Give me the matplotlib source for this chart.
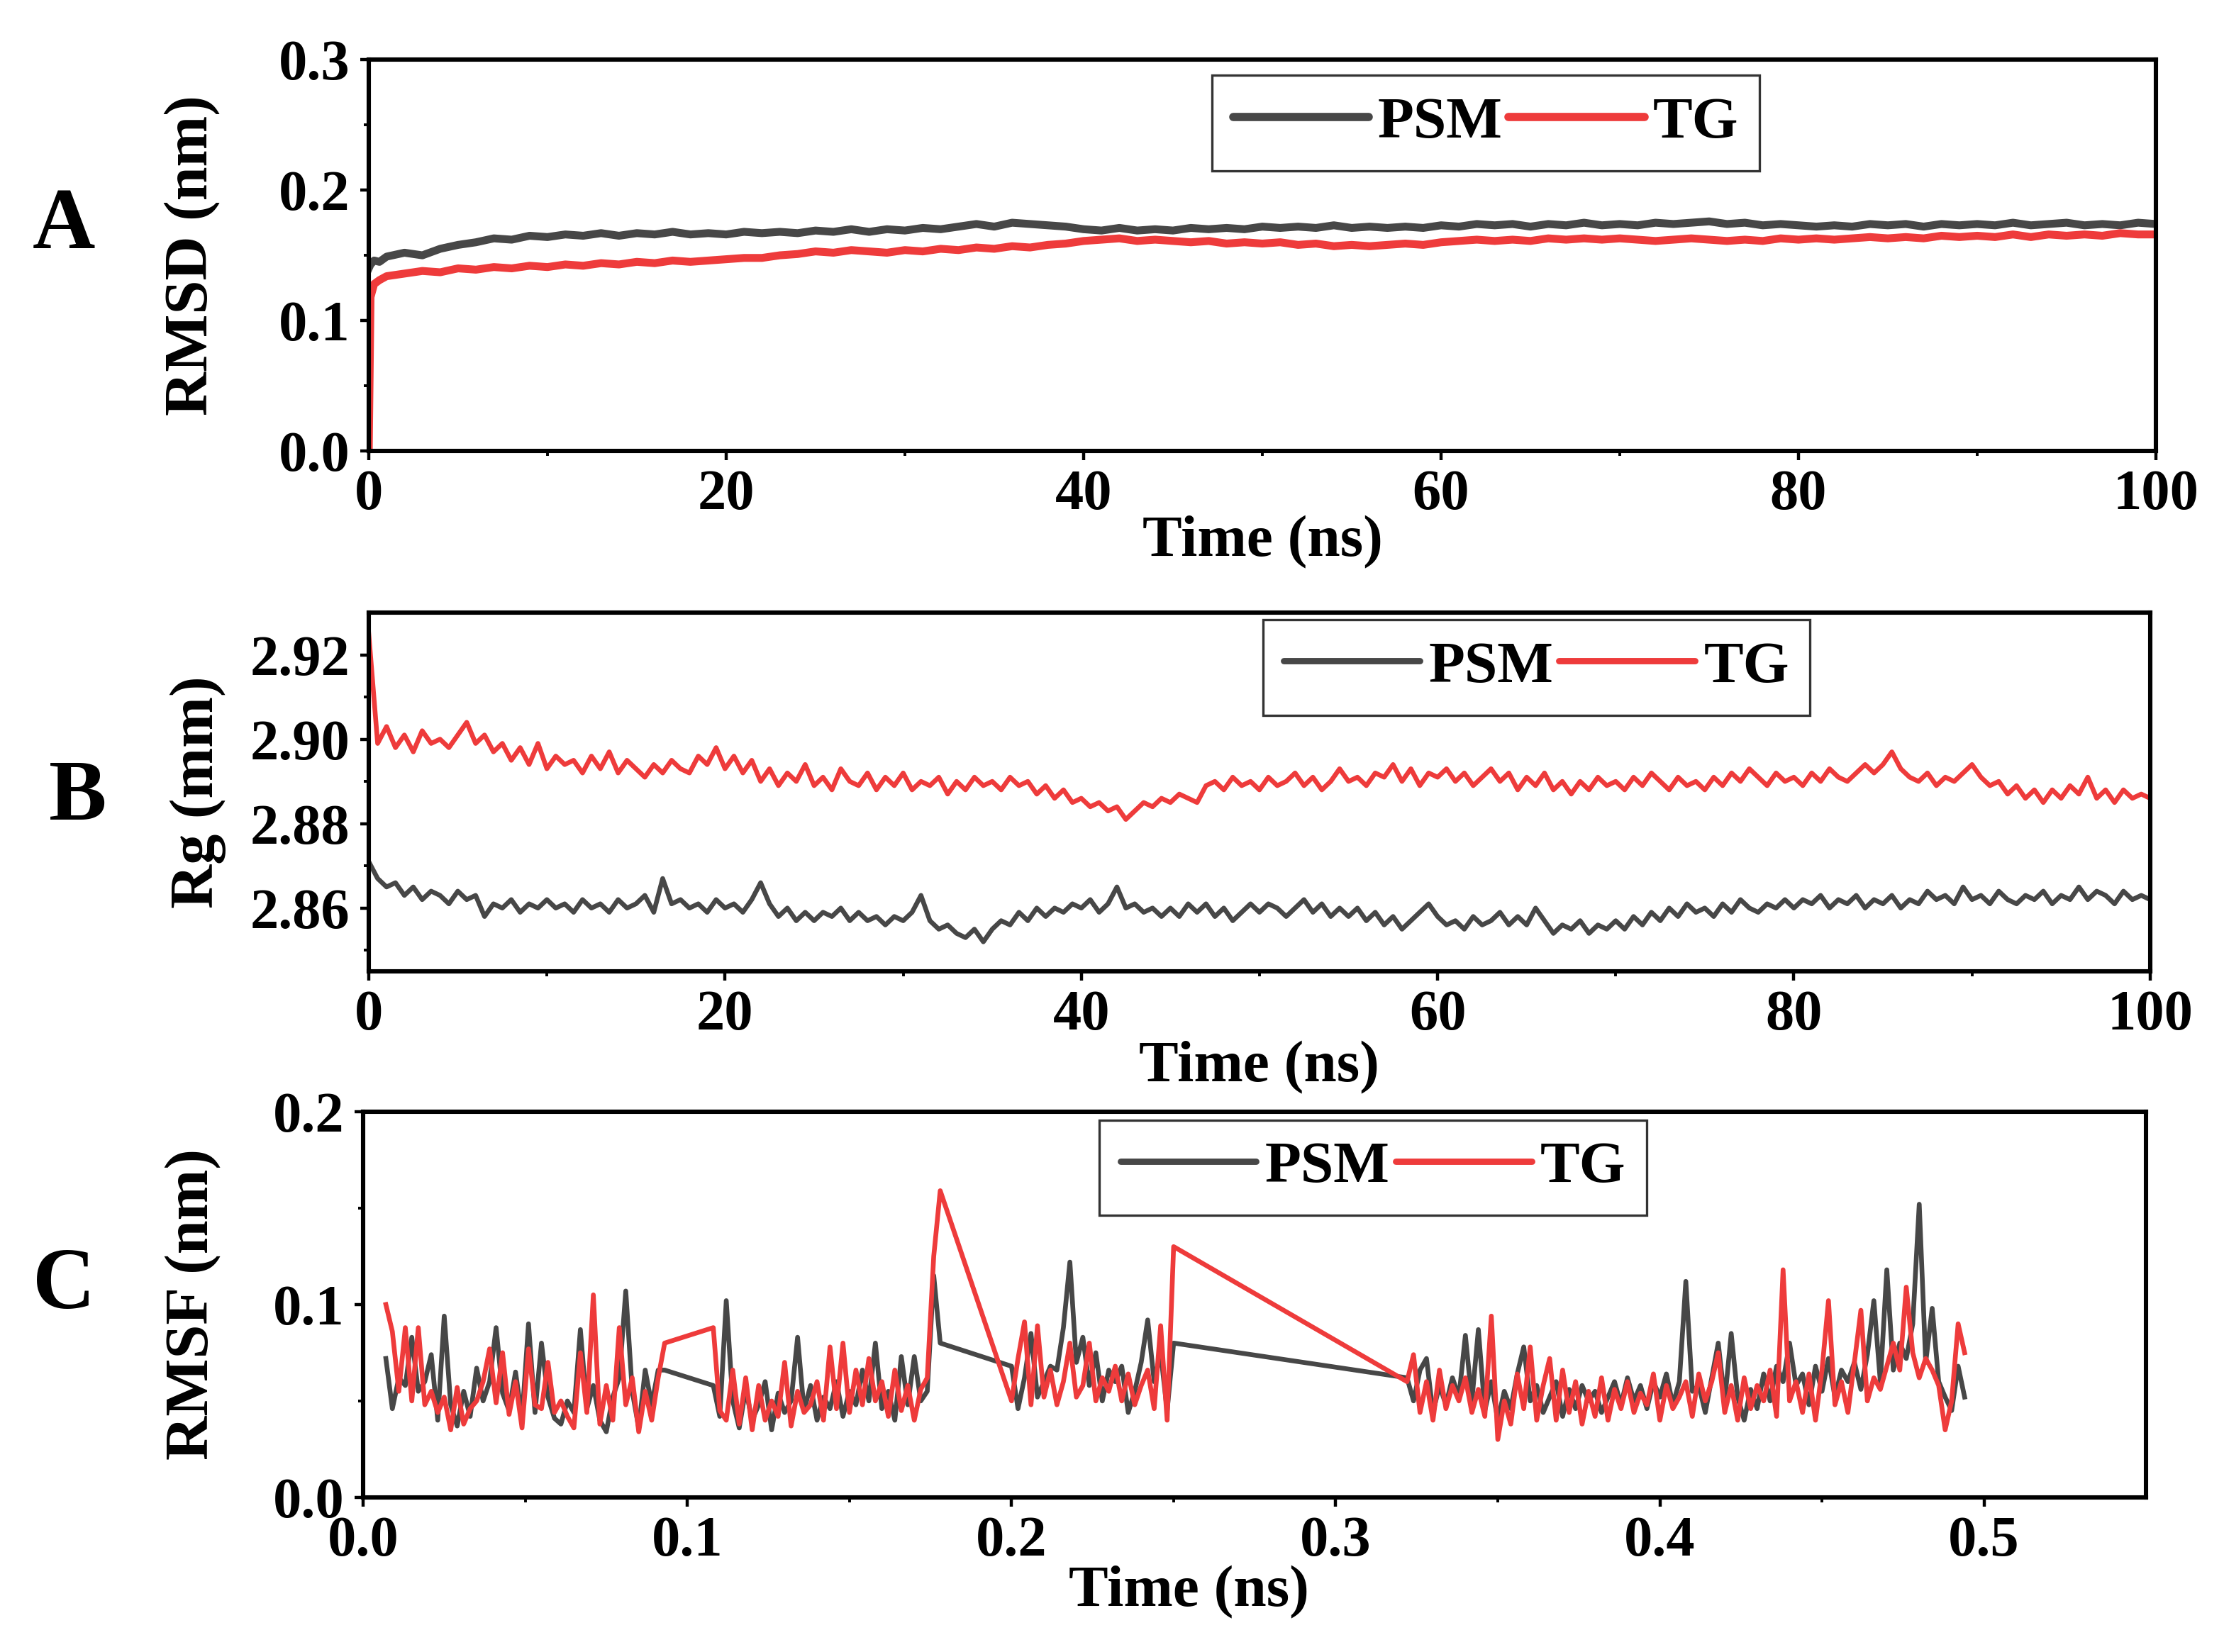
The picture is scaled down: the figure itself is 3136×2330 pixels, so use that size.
import numpy as np
import matplotlib.pyplot as plt

# MD analysis of PSM and TG: RMSD, Rg and RMSF

# ---- Panel A: RMSD (nm) vs time (ns)
rmsd_time = [0, 0.1, 0.3, 0.6] + list(range(1, 101))
rmsd_psm = [0.140, 0.143, 0.146, 0.145,
            0.149, 0.152, 0.150, 0.155, 0.158, 0.160, 0.163, 0.162, 0.165, 0.164,
            0.166, 0.165, 0.167, 0.165, 0.167, 0.166, 0.168, 0.166, 0.167, 0.166,
            0.168, 0.167, 0.168, 0.167, 0.169, 0.168, 0.170, 0.168, 0.170, 0.169,
            0.171, 0.170, 0.172, 0.174, 0.172, 0.175, 0.174, 0.173, 0.172, 0.170,
            0.169, 0.171, 0.169, 0.170, 0.169, 0.171, 0.170, 0.171, 0.170, 0.172,
            0.171, 0.172, 0.171, 0.173, 0.171, 0.172, 0.171, 0.172, 0.171, 0.173,
            0.172, 0.174, 0.173, 0.174, 0.172, 0.174, 0.173, 0.175, 0.173, 0.174,
            0.173, 0.175, 0.174, 0.175, 0.176, 0.174, 0.175, 0.173, 0.174, 0.173,
            0.172, 0.173, 0.172, 0.174, 0.173, 0.174, 0.172, 0.174, 0.173, 0.174,
            0.173, 0.175, 0.173, 0.174, 0.175, 0.173, 0.174, 0.173, 0.175, 0.174]
rmsd_tg = [0.000, 0.118, 0.128, 0.131,
           0.134, 0.136, 0.138, 0.137, 0.140, 0.139, 0.141, 0.140, 0.142, 0.141,
           0.143, 0.142, 0.144, 0.143, 0.145, 0.144, 0.146, 0.145, 0.146, 0.147,
           0.148, 0.148, 0.150, 0.151, 0.153, 0.152, 0.154, 0.153, 0.152, 0.154,
           0.153, 0.155, 0.154, 0.156, 0.155, 0.157, 0.156, 0.158, 0.159, 0.161,
           0.162, 0.163, 0.161, 0.162, 0.161, 0.160, 0.161, 0.159, 0.160, 0.159,
           0.160, 0.158, 0.159, 0.157, 0.158, 0.157, 0.158, 0.159, 0.158, 0.160,
           0.161, 0.162, 0.161, 0.162, 0.161, 0.163, 0.162, 0.163, 0.162, 0.163,
           0.162, 0.161, 0.162, 0.163, 0.162, 0.161, 0.162, 0.161, 0.163, 0.162,
           0.163, 0.162, 0.163, 0.164, 0.163, 0.164, 0.163, 0.165, 0.164, 0.165,
           0.164, 0.166, 0.164, 0.166, 0.165, 0.166, 0.165, 0.167, 0.166, 0.166]

# ---- Panel B: Rg vs time, every 0.5 ns
rg_time = np.arange(0, 100.25, 0.5)
rg_psm = [2.871, 2.867, 2.865, 2.866, 2.863, 2.865, 2.862, 2.864, 2.863, 2.861,
          2.864, 2.862, 2.863, 2.858, 2.861, 2.860, 2.862, 2.859, 2.861, 2.860,
          2.862, 2.860, 2.861, 2.859, 2.862, 2.860, 2.861, 2.859, 2.862, 2.860,
          2.861, 2.863, 2.859, 2.867, 2.861, 2.862, 2.860, 2.861, 2.859, 2.862,
          2.860, 2.861, 2.859, 2.862, 2.866, 2.861, 2.858, 2.860, 2.857, 2.859,
          2.857, 2.859, 2.858, 2.860, 2.857, 2.859, 2.857, 2.858, 2.856, 2.858,
          2.857, 2.859, 2.863, 2.857, 2.855, 2.856, 2.854, 2.853, 2.855, 2.852,
          2.855, 2.857, 2.856, 2.859, 2.857, 2.860, 2.858, 2.860, 2.859, 2.861,
          2.860, 2.862, 2.859, 2.861, 2.865, 2.860, 2.861, 2.859, 2.860, 2.858,
          2.860, 2.858, 2.861, 2.859, 2.861, 2.858, 2.860, 2.857, 2.859, 2.861,
          2.859, 2.861, 2.860, 2.858, 2.860, 2.862, 2.859, 2.861, 2.858, 2.860,
          2.858, 2.860, 2.857, 2.859, 2.856, 2.858, 2.855, 2.857, 2.859, 2.861,
          2.858, 2.856, 2.857, 2.855, 2.858, 2.856, 2.857, 2.859, 2.856, 2.858,
          2.856, 2.860, 2.857, 2.854, 2.856, 2.855, 2.857, 2.854, 2.856, 2.855,
          2.857, 2.855, 2.858, 2.856, 2.859, 2.857, 2.860, 2.858, 2.861, 2.859,
          2.860, 2.858, 2.861, 2.859, 2.862, 2.860, 2.859, 2.861, 2.860, 2.862,
          2.860, 2.862, 2.861, 2.863, 2.860, 2.862, 2.861, 2.863, 2.860, 2.862,
          2.861, 2.863, 2.860, 2.862, 2.861, 2.864, 2.862, 2.863, 2.861, 2.865,
          2.862, 2.863, 2.861, 2.864, 2.862, 2.861, 2.863, 2.862, 2.864, 2.861,
          2.863, 2.862, 2.865, 2.862, 2.864, 2.863, 2.861, 2.864, 2.862, 2.863,
          2.862]
rg_tg = [2.925, 2.899, 2.903, 2.898, 2.901, 2.897, 2.902, 2.899, 2.900, 2.898,
         2.901, 2.904, 2.899, 2.901, 2.897, 2.899, 2.895, 2.898, 2.894, 2.899,
         2.893, 2.896, 2.894, 2.895, 2.892, 2.896, 2.893, 2.897, 2.892, 2.895,
         2.893, 2.891, 2.894, 2.892, 2.895, 2.893, 2.892, 2.896, 2.894, 2.898,
         2.893, 2.896, 2.892, 2.895, 2.890, 2.893, 2.889, 2.892, 2.890, 2.894,
         2.889, 2.891, 2.888, 2.893, 2.890, 2.889, 2.892, 2.888, 2.891, 2.889,
         2.892, 2.888, 2.890, 2.889, 2.891, 2.887, 2.890, 2.888, 2.891, 2.889,
         2.890, 2.888, 2.891, 2.889, 2.890, 2.887, 2.889, 2.886, 2.888, 2.885,
         2.886, 2.884, 2.885, 2.883, 2.884, 2.881, 2.883, 2.885, 2.884, 2.886,
         2.885, 2.887, 2.886, 2.885, 2.889, 2.890, 2.888, 2.891, 2.889, 2.890,
         2.888, 2.891, 2.889, 2.890, 2.892, 2.889, 2.891, 2.888, 2.890, 2.893,
         2.890, 2.891, 2.889, 2.892, 2.891, 2.894, 2.890, 2.893, 2.889, 2.892,
         2.891, 2.893, 2.890, 2.892, 2.889, 2.891, 2.893, 2.890, 2.892, 2.888,
         2.891, 2.889, 2.892, 2.888, 2.890, 2.887, 2.890, 2.888, 2.891, 2.889,
         2.890, 2.888, 2.891, 2.889, 2.892, 2.890, 2.888, 2.891, 2.889, 2.890,
         2.888, 2.891, 2.889, 2.892, 2.890, 2.893, 2.891, 2.889, 2.892, 2.890,
         2.891, 2.889, 2.892, 2.890, 2.893, 2.891, 2.890, 2.892, 2.894, 2.892,
         2.894, 2.897, 2.893, 2.891, 2.890, 2.892, 2.889, 2.891, 2.890, 2.892,
         2.894, 2.891, 2.889, 2.890, 2.887, 2.889, 2.886, 2.888, 2.885, 2.888,
         2.886, 2.889, 2.887, 2.891, 2.886, 2.888, 2.885, 2.888, 2.886, 2.887,
         2.886]

# ---- Panel C: RMSF, sampled every 0.002 on four covered stretches
rmsf_segments = [(0.007, 0.093), (0.108, 0.178), (0.200, 0.250), (0.322, 0.494)]
rmsf_step = 0.002
rmsf_psm = [
    # 0.007 - 0.093
    0.072, 0.046, 0.062, 0.058, 0.083, 0.055, 0.060, 0.074, 0.040, 0.094,
    0.048, 0.037, 0.055, 0.042, 0.067, 0.050, 0.060, 0.088, 0.054, 0.045,
    0.065, 0.041, 0.090, 0.044, 0.080, 0.052, 0.041, 0.038, 0.050, 0.044,
    0.087, 0.046, 0.058, 0.040, 0.034, 0.052, 0.062, 0.107, 0.055, 0.036,
    0.066, 0.048, 0.066, 0.066,
    # 0.108 - 0.178
    0.058, 0.042, 0.102, 0.050, 0.036, 0.056, 0.040, 0.048, 0.060, 0.035,
    0.054, 0.044, 0.050, 0.083, 0.045, 0.058, 0.040, 0.052, 0.046, 0.060,
    0.042, 0.055, 0.048, 0.066, 0.050, 0.080, 0.046, 0.055, 0.040, 0.073,
    0.048, 0.073, 0.050, 0.055, 0.115, 0.080,
    # 0.200 - 0.250
    0.068, 0.046, 0.062, 0.085, 0.052, 0.060, 0.068, 0.066, 0.088, 0.122,
    0.070, 0.083, 0.058, 0.075, 0.050, 0.066, 0.060, 0.068, 0.044, 0.055,
    0.070, 0.092, 0.060, 0.075, 0.045, 0.080,
    # 0.322 - 0.494
    0.062, 0.050, 0.066, 0.072, 0.044, 0.058, 0.048, 0.062, 0.052, 0.084,
    0.050, 0.087, 0.045, 0.060, 0.040, 0.055, 0.046, 0.064, 0.078, 0.050,
    0.058, 0.044, 0.052, 0.060, 0.042, 0.056, 0.046, 0.058, 0.050, 0.055,
    0.044, 0.052, 0.060, 0.048, 0.062, 0.050, 0.058, 0.046, 0.060, 0.052,
    0.064, 0.048, 0.060, 0.112, 0.055, 0.058, 0.044, 0.062, 0.080, 0.050,
    0.085, 0.052, 0.040, 0.056, 0.046, 0.064, 0.050, 0.068, 0.060, 0.080,
    0.058, 0.064, 0.048, 0.068, 0.055, 0.072, 0.052, 0.066, 0.060, 0.070,
    0.056, 0.074, 0.102, 0.060, 0.118, 0.066, 0.080, 0.072, 0.090, 0.152,
    0.070, 0.098, 0.060, 0.052, 0.045, 0.068, 0.052]
rmsf_tg = [
    # 0.007 - 0.093
    0.100, 0.086, 0.055, 0.088, 0.050, 0.088, 0.048, 0.055, 0.044, 0.052,
    0.035, 0.057, 0.038, 0.046, 0.050, 0.060, 0.077, 0.049, 0.075, 0.043,
    0.060, 0.036, 0.077, 0.048, 0.046, 0.070, 0.044, 0.050, 0.042, 0.036,
    0.075, 0.044, 0.105, 0.038, 0.058, 0.040, 0.088, 0.048, 0.062, 0.034,
    0.055, 0.040, 0.062, 0.080,
    # 0.108 - 0.178
    0.088, 0.045, 0.040, 0.066, 0.038, 0.062, 0.035, 0.058, 0.040, 0.050,
    0.042, 0.070, 0.037, 0.055, 0.044, 0.048, 0.060, 0.040, 0.078, 0.046,
    0.080, 0.044, 0.066, 0.048, 0.072, 0.050, 0.060, 0.042, 0.066, 0.045,
    0.058, 0.040, 0.056, 0.062, 0.125, 0.159,
    # 0.200 - 0.250
    0.050, 0.072, 0.091, 0.048, 0.089, 0.052, 0.066, 0.048, 0.060, 0.080,
    0.052, 0.058, 0.080, 0.050, 0.062, 0.055, 0.068, 0.050, 0.064, 0.048,
    0.058, 0.066, 0.046, 0.089, 0.040, 0.130,
    # 0.322 - 0.494
    0.060, 0.074, 0.044, 0.060, 0.040, 0.066, 0.046, 0.058, 0.050, 0.062,
    0.044, 0.056, 0.042, 0.094, 0.030, 0.050, 0.038, 0.064, 0.046, 0.078,
    0.040, 0.058, 0.072, 0.040, 0.066, 0.044, 0.060, 0.038, 0.055, 0.042,
    0.062, 0.040, 0.056, 0.046, 0.060, 0.044, 0.054, 0.048, 0.064, 0.040,
    0.058, 0.046, 0.052, 0.060, 0.042, 0.064, 0.050, 0.060, 0.075, 0.044,
    0.058, 0.040, 0.062, 0.046, 0.058, 0.050, 0.066, 0.042, 0.118, 0.050,
    0.060, 0.044, 0.064, 0.040, 0.066, 0.102, 0.048, 0.060, 0.044, 0.070,
    0.097, 0.050, 0.062, 0.056, 0.068, 0.080, 0.066, 0.109, 0.075, 0.062,
    0.072, 0.066, 0.058, 0.035, 0.050, 0.090, 0.075]

rmsf_x = np.concatenate([np.round(np.arange(a, b + rmsf_step / 2, rmsf_step), 3)
                         for a, b in rmsf_segments])

series_names = ['PSM', 'TG']
c_psm = '#474747'
c_tg = '#ee3b3b'

plt.rcParams['font.family'] = ['Liberation Serif', 'DejaVu Serif']
plt.rcParams['font.weight'] = 'bold'

fig = plt.figure(figsize=(15.68, 11.65), dpi=200)
axA = fig.add_axes([0.1658, 0.727, 0.8036, 0.2369])
axB = fig.add_axes([0.1658, 0.412, 0.8010, 0.2172])
axC = fig.add_axes([0.1633, 0.0936, 0.8017, 0.2335])

tick_fs = 29
label_fs = 30


def style_axis(ax, xlabel, ylabel, ylab_x, xlab_y, xlab_x=0.5):
    for s in ax.spines.values():
        s.set_linewidth(2.2)
    ax.tick_params(which='major', direction='out', length=4.5, width=1.6,
                   labelsize=tick_fs, pad=5, top=False, right=False)
    ax.tick_params(which='minor', direction='out', length=2.5, width=1.4,
                   top=False, right=False)
    for lab in ax.get_xticklabels() + ax.get_yticklabels():
        lab.set_fontweight('bold')
    ax.set_xlabel(xlabel, fontsize=label_fs, fontweight='bold', va='top')
    ax.set_ylabel(ylabel, fontsize=label_fs + 1, fontweight='bold')
    ax.xaxis.set_label_coords(xlab_x, xlab_y)
    ax.yaxis.set_label_coords(ylab_x, 0.5)


def add_legend(ax, anchor, lw):
    leg = ax.legend(loc='upper left', bbox_to_anchor=anchor, ncol=2,
                    fontsize=label_fs, frameon=True, fancybox=False,
                    edgecolor='black', handlelength=2.3, handletextpad=0.15,
                    columnspacing=0.1, borderpad=0.35, borderaxespad=0)
    leg.get_frame().set_linewidth(1.2)
    for ln in leg.get_lines():
        ln.set_linewidth(lw)
        ln.set_solid_capstyle('round')
    for t in leg.get_texts():
        t.set_fontweight('bold')
    return leg


# Panel A
axA.plot(rmsd_time, rmsd_psm, color=c_psm, lw=4.0, label=series_names[0])
axA.plot(rmsd_time, rmsd_tg, color=c_tg, lw=4.0, label=series_names[1])
axA.set_xlim(0, 100)
axA.set_ylim(0, 0.3)
axA.set_xticks([0, 20, 40, 60, 80, 100])
axA.set_xticks([10, 30, 50, 70, 90], minor=True)
axA.set_yticks([0.0, 0.1, 0.2, 0.3])
axA.set_yticks([0.05, 0.15, 0.25], minor=True)
axA.set_yticklabels(['0.0', '0.1', '0.2', '0.3'])
style_axis(axA, 'Time (ns)', 'RMSD (nm)', -0.083, -0.165)
add_legend(axA, (0.472, 0.96), 4.2)

# Panel B
axB.plot(rg_time, rg_psm, color=c_psm, lw=2.4, label=series_names[0])
axB.plot(rg_time, rg_tg, color=c_tg, lw=2.4, label=series_names[1])
axB.set_xlim(0, 100)
axB.set_ylim(2.845, 2.93)
axB.set_xticks([0, 20, 40, 60, 80, 100])
axB.set_xticks([10, 30, 50, 70, 90], minor=True)
axB.set_yticks([2.86, 2.88, 2.90, 2.92])
axB.set_yticks([2.85, 2.87, 2.89, 2.91], minor=True)
axB.set_yticklabels(['2.86', '2.88', '2.90', '2.92'])
style_axis(axB, 'Time (ns)', 'Rg (mm)', -0.080, -0.195)
add_legend(axB, (0.502, 0.98), 3.2)

# Panel C
axC.plot(rmsf_x, rmsf_psm, color=c_psm, lw=2.4, label=series_names[0])
axC.plot(rmsf_x, rmsf_tg, color=c_tg, lw=2.4, label=series_names[1])
axC.set_xlim(0, 0.55)
axC.set_ylim(0, 0.2)
axC.set_xticks([0.0, 0.1, 0.2, 0.3, 0.4, 0.5])
axC.set_xticks([0.05, 0.15, 0.25, 0.35, 0.45], minor=True)
axC.set_xticklabels(['0.0', '0.1', '0.2', '0.3', '0.4', '0.5'])
axC.set_yticks([0.0, 0.1, 0.2])
axC.set_yticks([0.05, 0.15], minor=True)
axC.set_yticklabels(['0.0', '0.1', '0.2'])
style_axis(axC, 'Time (ns)', 'RMSF (nm)', -0.080, -0.178, xlab_x=0.463)
add_legend(axC, (0.413, 0.978), 3.2)

# panel letters
fig.text(90 / 3136, 1 - 320 / 2330, 'A', fontsize=44, fontweight='bold',
         ha='center', va='center')
fig.text(110 / 3136, 1 - 1126 / 2330, 'B', fontsize=44, fontweight='bold',
         ha='center', va='center')
fig.text(90 / 3136, 1 - 1816 / 2330, 'C', fontsize=44, fontweight='bold',
         ha='center', va='center')

fig.savefig('out.png', dpi=200)
